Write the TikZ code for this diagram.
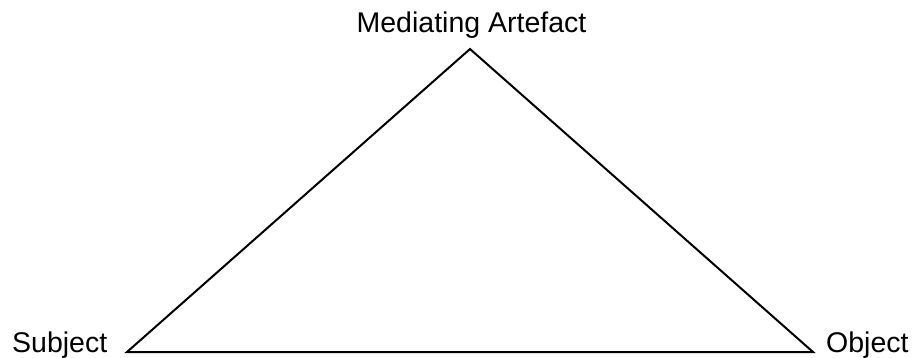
\documentclass[tikz,border=0pt]{standalone}
\usepackage{fontspec}
\setmainfont{Liberation Sans}
\begin{document}
\begin{tikzpicture}[x=1pt,y=-1pt,
  lbl/.style={inner sep=0pt,font=\fontsize{28.5}{32}\selectfont},
  edge/.style={line width=2pt,line join=miter}]
\useasboundingbox (0,0) rectangle (917,358);
\coordinate (apex) at (470,49);
\coordinate (sl) at (127,352);
\coordinate (or) at (813,352);
\draw[edge] (sl) -- (apex) -- (or) -- cycle;
\node[lbl,anchor=base] (med) at (471.5,33) {Mediating Artefact};
\node[lbl,anchor=base west] (subj) at (12,352) {Subject};
\node[lbl,anchor=base west] (obj) at (826,352) {Object};
\end{tikzpicture}
\end{document}
